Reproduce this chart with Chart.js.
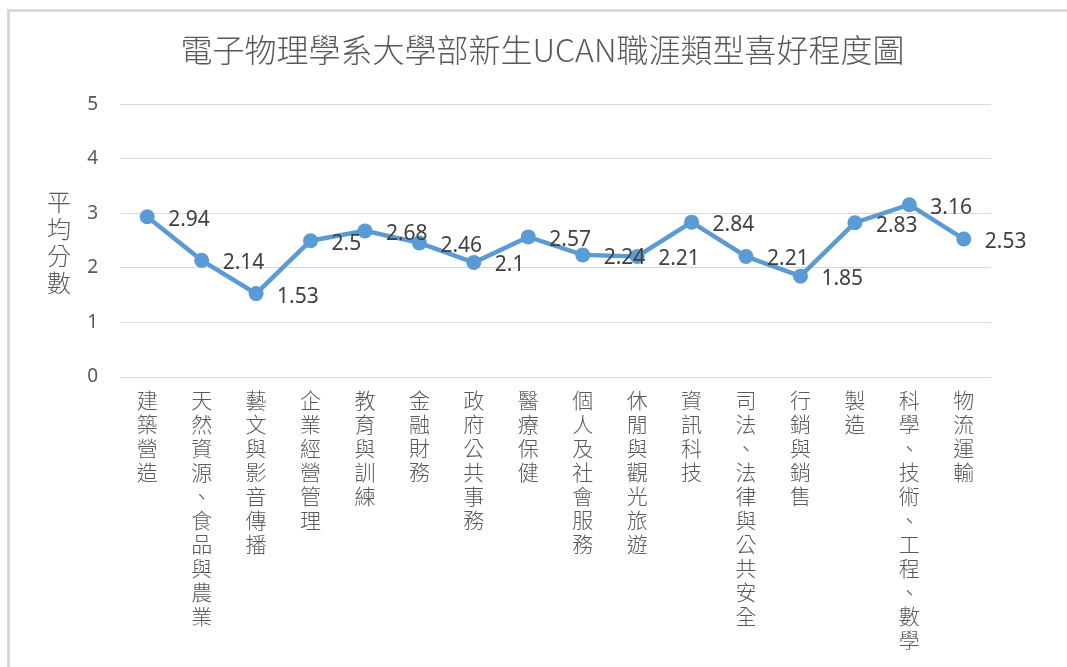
<!DOCTYPE html>
<html>
<head>
<meta charset="utf-8">
<script src="https://cdn.jsdelivr.net/npm/chart.js@4"></script>
<style>
  html, body { margin: 0; padding: 0; background: #fff; overflow: hidden; width: 1067px; height: 667px; }
  .edge { position: absolute; background: #d9d9d9; }
  #edge-top { left: 7px; top: 9px; width: 1060px; height: 3px; }
  #edge-left { left: 7px; top: 9px; width: 3px; height: 658px; }
  #wrap { position: absolute; left: 0; top: 0; width: 1067px; height: 667px; }
</style>
</head>
<body>
<div class="edge" id="edge-top"></div>
<div class="edge" id="edge-left"></div>
<div id="wrap"><canvas id="chart" width="1067" height="667"></canvas></div>
<script>
const chartTitle = '電子物理學系大學部新生UCAN職涯類型喜好程度圖';
const yTitle = '平均分數';
const categories = [
    '建築營造', '天然資源、食品與農業', '藝文與影音傳播', '企業經營管理',
    '教育與訓練', '金融財務', '政府公共事務', '醫療保健',
    '個人及社會服務', '休閒與觀光旅遊', '資訊科技', '司法、法律與公共安全',
    '行銷與銷售', '製造', '科學、技術、工程、數學', '物流運輸'
];
const scores = [2.94, 2.14, 1.53, 2.5, 2.68, 2.46, 2.1, 2.57, 2.24, 2.21, 2.84, 2.21, 1.85, 2.83, 3.16, 2.53];
const yMin = 0;
const yMax = 5;
const yStep = 1;

const cjk = '"Noto Sans CJK TC", "Noto Sans CJK SC", sans-serif';
const grey = '#595959';

// numbers to the right of each point
const valueLabels = {
    id: 'valueLabels',
    afterDatasetsDraw(chart) {
        const ctx = chart.ctx;
        const meta = chart.getDatasetMeta(0);
        ctx.save();
        ctx.font = '21px "Noto Sans", sans-serif';
        ctx.fillStyle = '#404040';
        ctx.textAlign = 'left';
        ctx.textBaseline = 'middle';
        meta.data.forEach((pt, i) => {
            ctx.fillText(String(scores[i]), pt.x + 21, pt.y + 3);
        });
        ctx.restore();
    }
};

// y axis title, characters stacked top to bottom
const stackedYTitle = {
    id: 'stackedYTitle',
    afterDraw(chart) {
        const ctx = chart.ctx;
        const area = chart.chartArea;
        const mid = (area.top + area.bottom) / 2 + 2;
        const chars = Array.from(yTitle);
        ctx.save();
        ctx.font = '300 24px ' + cjk;
        ctx.fillStyle = grey;
        ctx.textAlign = 'center';
        ctx.textBaseline = 'middle';
        chars.forEach((c, i) => {
            ctx.fillText(c, 59, mid + (i - (chars.length - 1) / 2) * 27);
        });
        ctx.restore();
    }
};

new Chart(document.getElementById('chart'), {
    type: 'line',
    data: {
        labels: categories.map(c => Array.from(c)),
        datasets: [{
            data: scores,
            borderColor: '#5b9bd5',
            backgroundColor: '#5b9bd5',
            borderWidth: 4.5,
            pointRadius: 7.5,
            pointHoverRadius: 7.5,
            pointBorderWidth: 0,
            tension: 0
        }]
    },
    options: {
        responsive: false,
        animation: false,
        events: [],
        layout: { padding: { left: 18, right: 0, top: 0, bottom: 4 } },
        plugins: {
            legend: { display: false },
            tooltip: { enabled: false },
            title: {
                display: true,
                text: chartTitle,
                color: grey,
                font: { family: cjk, size: 32, weight: '300' },
                padding: { top: 31, bottom: 35 }
            }
        },
        scales: {
            x: {
                offset: true,
                grid: { display: false, drawTicks: false },
                border: { display: false },
                ticks: {
                    autoSkip: false,
                    maxRotation: 0,
                    minRotation: 0,
                    padding: 11,
                    color: grey,
                    font: { family: cjk, size: 21, weight: '300', lineHeight: '24px' }
                }
            },
            y: {
                min: yMin,
                max: yMax,
                afterFit: s => { s.width = 102; },
                grid: { color: '#d9d9d9', lineWidth: 1, drawTicks: false },
                border: { display: false },
                ticks: {
                    stepSize: yStep,
                    padding: 22,
                    color: grey,
                    font: { family: '"Noto Sans", sans-serif', size: 19 }
                }
            },
            // empty right-hand space, keeps the title centred like the original
            yRight: {
                position: 'right',
                display: true,
                min: yMin,
                max: yMax,
                afterFit: s => { s.width = 76; },
                grid: { display: false, drawTicks: false },
                border: { display: false },
                ticks: { display: false }
            }
        }
    },
    plugins: [valueLabels, stackedYTitle]
});
</script>
</body>
</html>
